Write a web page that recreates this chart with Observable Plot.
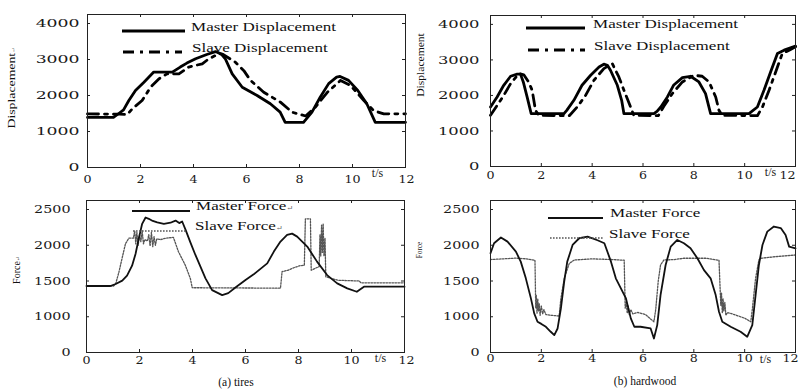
<!DOCTYPE html>
<html><head><meta charset="utf-8">
<script src="https://cdn.jsdelivr.net/npm/d3@7"></script>
<script src="https://cdn.jsdelivr.net/npm/@observablehq/plot@0.6"></script>
<style>
html,body{margin:0;padding:0;background:#fff;}
#root{position:relative;width:802px;height:390px;overflow:hidden;background:#fff;}
.panel{position:absolute;}
#overlay{position:absolute;left:0;top:0;pointer-events:none;}
</style></head><body><div id="root"></div>
<script>
// ---------- data (t in s, value) ----------
const xTicks = [0, 2, 4, 6, 8, 10, 12];
const dispTicks = [0, 1000, 2000, 3000, 4000];
const forceTicks = [500, 1000, 1500, 2000, 2500];
const forceTickLabels = ["0", "1000", "1500", "2000", "2500"];

const tiresMasterDisp = [[0,1390],[0.98,1390],[1.18,1500],[1.36,1600],[1.56,1860],[1.81,2140],[2.13,2370],[2.5,2650],[3.2,2650],[3.5,2790],[3.75,2900],[4.08,3020],[4.5,3140],[4.83,3220],[5.05,3150],[5.2,3020],[5.46,2600],[5.84,2230],[6.4,2000],[6.9,1770],[7.27,1540],[7.46,1255],[8.15,1255],[8.47,1540],[8.78,1950],[9.1,2330],[9.4,2510],[9.53,2530],[9.85,2420],[10.2,2140],[10.54,1770],[10.86,1255],[12,1255]];
const tiresSlaveDisp = [[0,1490],[1.2,1480],[1.5,1470],[1.69,1630],[2.06,1860],[2.38,2230],[2.69,2460],[3.0,2600],[3.45,2600],[3.82,2790],[4.33,2880],[4.58,3020],[4.96,3160],[5.1,3150],[5.58,2925],[5.9,2690],[6.15,2420],[6.65,2090],[7.28,1815],[7.72,1536],[8.23,1430],[8.6,1675],[9.05,2090],[9.55,2420],[9.92,2280],[10.43,1860],[10.8,1580],[11.18,1490],[12,1490]];

const hwMasterDisp = [[0,1675],[0.26,1957],[0.52,2286],[0.79,2540],[1.05,2600],[1.18,2600],[1.29,2380],[1.44,1957],[1.6,1486],[2.89,1486],[3.0,1580],[3.28,1863],[3.6,2286],[3.94,2568],[4.27,2800],[4.46,2880],[4.6,2850],[4.72,2710],[4.99,2286],[5.16,1863],[5.25,1486],[6.43,1486],[6.55,1550],[6.7,1675],[6.96,1957],[7.2,2286],[7.55,2500],[7.87,2540],[8.2,2380],[8.46,2050],[8.66,1486],[10.17,1486],[10.5,1675],[10.76,2145],[11.02,2662],[11.29,3180],[11.55,3274],[12,3387]];
const hwSlaveDisp = [[0,1440],[0.26,1720],[0.52,2000],[0.79,2333],[1.12,2615],[1.31,2580],[1.5,2380],[1.64,2145],[1.77,1580],[1.9,1440],[3.1,1430],[3.41,1675],[3.74,2000],[4.07,2427],[4.46,2756],[4.79,2897],[5.05,2521],[5.25,2145],[5.51,1675],[5.64,1440],[6.6,1430],[6.82,1693],[7.15,2050],[7.55,2380],[8.0,2568],[8.33,2540],[8.6,2380],[8.86,1957],[8.99,1580],[9.12,1440],[10.5,1430],[10.7,1675],[10.96,2145],[11.22,2662],[11.48,3180],[11.75,3274],[12,3370]];

const tiresMasterForce = [[0,1430],[0.9,1430],[1.1,1458],[1.35,1505],[1.53,1575],[1.72,1715],[1.85,1878],[1.97,2090],[2.1,2300],[2.23,2388],[2.35,2370],[2.5,2340],[2.67,2320],[2.92,2300],[3.17,2315],[3.36,2345],[3.5,2310],[3.61,2332],[3.74,2215],[3.92,2040],[4.11,1864],[4.49,1537],[4.74,1373],[5.12,1303],[5.35,1330],[5.62,1410],[6.0,1513],[6.31,1593],[6.82,1747],[7.07,1911],[7.32,2051],[7.57,2144],[7.76,2163],[7.95,2121],[8.33,1981],[8.7,1771],[9.08,1583],[9.46,1467],[9.84,1397],[10.2,1350],[10.47,1420],[12,1420]];
const tiresSlaveForce = [[0,1430],[1.02,1430],[1.1,1460],[1.22,1620],[1.35,1830],[1.47,2020],[1.6,2100],[1.77,2100],[1.82,2200],[1.86,2020],[1.9,2180],[1.95,2000],[2.0,2150],[2.05,2050],[2.1,2200],[2.15,2020],[2.2,2080],[2.3,2060],[2.35,2150],[2.4,1990],[2.45,2180],[2.5,1980],[2.55,2120],[2.6,2000],[2.65,2090],[2.8,2080],[3.0,2100],[3.28,2110],[3.47,1910],[3.73,1720],[3.92,1533],[3.99,1406],[7.32,1400],[7.38,1630],[7.6,1650],[7.85,1690],[8.07,1715],[8.22,1720],[8.26,2370],[8.45,2370],[8.48,1650],[8.64,1680],[8.78,1700],[8.81,2150],[8.84,1850],[8.87,2280],[8.9,1900],[8.93,2300],[8.96,1850],[9.0,2100],[9.03,1560],[9.2,1540],[9.5,1510],[10.3,1500],[10.35,1475],[12,1475]];

const hwMasterForce = [[0,1888],[0.14,2028],[0.41,2108],[0.67,2051],[1.0,1911],[1.19,1771],[1.39,1537],[1.59,1257],[1.72,1047],[1.85,930],[2.0,900],[2.18,860],[2.37,790],[2.51,743],[2.64,836],[2.77,1117],[2.9,1490],[3.02,1771],[3.23,2004],[3.49,2098],[3.82,2120],[4.21,2070],[4.48,2028],[4.74,1771],[4.93,1537],[5.13,1397],[5.33,1257],[5.52,977],[5.66,860],[5.9,860],[6.3,836],[6.43,696],[6.56,883],[6.69,1303],[6.89,1724],[7.09,1981],[7.35,2074],[7.61,2028],[7.87,1958],[8.14,1818],[8.4,1653],[8.66,1537],[8.86,1303],[8.99,1070],[9.12,930],[9.45,860],[9.84,790],[10.1,720],[10.3,883],[10.43,1303],[10.56,1724],[10.7,2004],[10.89,2191],[11.15,2262],[11.42,2240],[11.61,2144],[11.75,1981],[12,1958]];
const hwSlaveForce = [[0,1800],[0.5,1810],[1.0,1820],[1.4,1810],[1.75,1790],[1.78,1120],[1.8,1300],[1.83,1050],[1.86,1250],[1.89,1080],[1.92,1180],[1.95,1020],[2.0,1150],[2.05,1040],[2.1,1100],[2.18,1030],[2.4,1020],[2.7,1010],[2.77,1257],[2.9,1537],[3.1,1747],[3.3,1794],[4.0,1810],[4.8,1800],[5.26,1790],[5.3,1120],[5.34,1200],[5.38,1050],[5.42,1150],[5.46,1030],[5.52,1100],[5.6,1040],[5.8,1060],[6.1,1030],[6.43,930],[6.5,1100],[6.6,1500],[6.69,1724],[6.82,1794],[7.22,1800],[7.6,1818],[8.5,1818],[8.99,1790],[9.06,1160],[9.09,1330],[9.12,1050],[9.15,1250],[9.18,1080],[9.22,1200],[9.26,1020],[9.32,1060],[9.6,1030],[10.0,980],[10.24,930],[10.3,1100],[10.43,1537],[10.56,1794],[10.63,1818],[11.2,1840],[12,1864]];

// ---------- styles ----------
const dispMaster = {stroke: "#000", width: 2.8, dash: null};
const dispSlave = {stroke: "#000", width: 2.8, dash: "11,6,3,6"};
const forceMaster = {stroke: "#111", width: 1.8, dash: null};
const forceSlave = {stroke: "#555", width: 1.3, dash: "1.6,1.4"};
const NUM_FONT = "'DejaVu Serif', 'Liberation Serif', serif";
const TXT_FONT = "'Liberation Serif', 'DejaVu Serif', serif";

const toRows = pairs => pairs.map(([t, v]) => ({t, v}));
const root = document.getElementById("root");

function stretchTexts(nodes, s) {
  nodes.forEach(t => {
    const tr = t.getAttribute("transform") || "";
    const x = t.getAttribute("x"), y = t.getAttribute("y");
    let pre = "";
    const nx = x !== null && !isNaN(+x) ? +x : null;
    const ny = y !== null && !isNaN(+y) ? +y : null;
    if (nx !== null || ny !== null) {
      pre = ` translate(${nx || 0},${ny || 0})`;
      if (nx !== null) t.removeAttribute("x");
      if (ny !== null) t.removeAttribute("y");
    }
    t.setAttribute("transform", `${tr}${pre} scale(${s},1)`);
  });
}

function panel(o) {
  const plotH = o.height - o.mT - o.mB, plotW = o.width - o.mL - o.mR;
  const tick = "#222";
  const xAx = {tickSize: 0, tickPadding: o.xPad, fontSize: 11.5, fontFamily: NUM_FONT, label: null, tickFormat: d => String(d)};
  const chart = Plot.plot({
    width: o.width, height: o.height,
    marginLeft: o.mL, marginRight: o.mR, marginTop: o.mT, marginBottom: o.mB,
    x: {domain: [0, 12]},
    y: {domain: o.yDomain},
    style: {background: "none", overflow: "visible", fontFamily: NUM_FONT, color: "#1a1a1a"},
    marks: [
      ...o.series.map(s => Plot.line(toRows(s.data), {x: "t", y: "v", stroke: s.style.stroke, strokeWidth: s.style.width, strokeDasharray: s.style.dash, curve: "linear"})),
      Plot.frame({stroke: "#222", strokeWidth: 1}),
      Plot.ruleX(xTicks, {x: d => d, insetTop: plotH - 3, stroke: tick}),
      Plot.ruleX(xTicks, {x: d => d, insetBottom: plotH - 3, stroke: tick}),
      Plot.ruleY(o.yTicks, {y: d => d, insetRight: plotW - 3, stroke: tick}),
      Plot.ruleY(o.yTicks, {y: d => d, insetLeft: plotW - 3, stroke: tick}),
      Plot.axisX(xTicks.slice(0, -1), xAx),
      Plot.axisX(xTicks.slice(-1), {...xAx, dx: o.lastDx}),
      Plot.axisY(o.yTicks, {tickSize: 0, tickPadding: o.yPad, fontSize: o.yFont, fontFamily: NUM_FONT, label: null, tickFormat: o.yFmt}),
      Plot.text(["t/s"], {frameAnchor: "bottom-right", text: d => d, dx: o.tsDx, dy: o.tsDy, textAnchor: "middle", lineAnchor: "middle", fontFamily: TXT_FONT, fontSize: 12})
    ]
  });
  const div = document.createElement("div");
  div.className = "panel";
  div.style.left = o.left + "px";
  div.style.top = o.top + "px";
  div.style.width = o.width + "px";
  div.style.height = o.height + "px";
  div.appendChild(chart);
  root.appendChild(div);
  stretchTexts(chart.querySelectorAll('[aria-label*="y-axis"] text'), o.yStretch);
  stretchTexts(chart.querySelectorAll('[aria-label*="x-axis"] text'), 1.1);
}

const forceFmt = d => forceTickLabels[forceTicks.indexOf(d)];

panel({left: 0, top: 0, width: 410, height: 195, mL: 87, mR: 5, mT: 14, mB: 28,
  yDomain: [0, 4250], yTicks: dispTicks, yFmt: d => String(d), xPad: 7, yPad: 8, yFont: 11.5, yStretch: 1.5, lastDx: 1,
  tsDx: -28, tsDy: 6, series: [{data: tiresMasterDisp, style: dispMaster}, {data: tiresSlaveDisp, style: dispSlave}]});
panel({left: 400, top: 0, width: 402, height: 195, mL: 90, mR: 7, mT: 15, mB: 29,
  yDomain: [0, 4250], yTicks: dispTicks, yFmt: d => String(d), xPad: 4, yPad: 11, yFont: 11.5, yStretch: 1.42, lastDx: -8,
  tsDx: -25, tsDy: 6, series: [{data: hwMasterDisp, style: dispMaster}, {data: hwSlaveDisp, style: dispSlave}]});
panel({left: 0, top: 195, width: 410, height: 175, mL: 86, mR: 6, mT: 5, mB: 18,
  yDomain: [500, 2626], yTicks: forceTicks, yFmt: forceFmt, xPad: 3, yPad: 16, yFont: 11, yStretch: 1.3, lastDx: 2,
  tsDx: -24, tsDy: 6, series: [{data: tiresSlaveForce, style: forceSlave}, {data: tiresMasterForce, style: forceMaster}]});
panel({left: 400, top: 195, width: 402, height: 175, mL: 90, mR: 7, mT: 5, mB: 18,
  yDomain: [500, 2626], yTicks: forceTicks, yFmt: forceFmt, xPad: 1.5, yPad: 11, yFont: 11, yStretch: 1.3, lastDx: -5,
  tsDx: -30, tsDy: 7, series: [{data: hwSlaveForce, style: forceSlave}, {data: hwMasterForce, style: forceMaster}]});

// ---------- overlay: legends, axis titles, captions ----------
const ov = d3.create("svg").attr("id", "overlay").attr("width", 802).attr("height", 390)
  .style("font-family", TXT_FONT).attr("fill", "#111");

const legends = [
  {x1: 122, x2: 185, y: 31, style: dispMaster, label: "Master Displacement", tx: 191, ty: 31, mark: false},
  {x1: 123, x2: 182, y: 52, style: dispSlave, label: "Slave Displacement", tx: 192, ty: 52, mark: false},
  {x1: 526, x2: 585, y: 28, style: dispMaster, label: "Master Displacement", tx: 593, ty: 28, mark: false},
  {x1: 528, x2: 585, y: 50, style: dispSlave, label: "Slave Displacement", tx: 594, ty: 50, mark: false},
  {x1: 132, x2: 190, y: 211, style: forceMaster, label: "Master Force", tx: 196, ty: 210, mark: true},
  {x1: 133, x2: 187, y: 231, style: forceSlave, label: "Slave Force", tx: 195, ty: 230, mark: true},
  {x1: 548, x2: 603, y: 218, style: forceMaster, label: "Master Force", tx: 610, ty: 217, mark: false},
  {x1: 550, x2: 603, y: 238, style: forceSlave, label: "Slave Force", tx: 609, ty: 238, mark: false}
];
for (const l of legends) {
  ov.append("line").attr("x1", l.x1).attr("x2", l.x2).attr("y1", l.y).attr("y2", l.y)
    .attr("stroke", l.style.stroke).attr("stroke-width", l.style.width)
    .attr("stroke-dasharray", l.style.dash);
  const t = ov.append("text").attr("transform", `translate(${l.tx},${l.ty}) scale(1.42,1)`)
    .attr("font-size", 12).text(l.label);
  if (l.mark) t.append("tspan").attr("font-size", 6).attr("fill", "#666").text("↵");
}

const yTitles = [
  {text: "Displacement", mark: true, x: 15, y: 88, size: 13, sx: 1.06, sy: 0.72},
  {text: "Displacement", mark: false, x: 424, y: 65, size: 11.6, sx: 1, sy: 0.9},
  {text: "Force", mark: true, x: 20, y: 270, size: 10, sx: 1, sy: 1},
  {text: "Force", mark: false, x: 422, y: 250, size: 9, sx: 0.8, sy: 1}
];
for (const y of yTitles) {
  const t = ov.append("text").attr("text-anchor", "middle")
    .attr("transform", `translate(${y.x},${y.y}) rotate(-90) scale(${y.sx},${y.sy})`)
    .attr("font-size", y.size).text(y.text);
  if (y.mark) t.append("tspan").attr("font-size", 6).attr("fill", "#666").text("↵");
}

const captions = [
  {text: "(a) tires", x: 236, y: 386},
  {text: "(b) hardwood", x: 645, y: 385}
];
for (const c of captions) {
  ov.append("text").attr("x", c.x).attr("y", c.y).attr("text-anchor", "middle")
    .attr("font-size", 11.5).text(c.text);
}
root.appendChild(ov.node());
</script></body></html>
